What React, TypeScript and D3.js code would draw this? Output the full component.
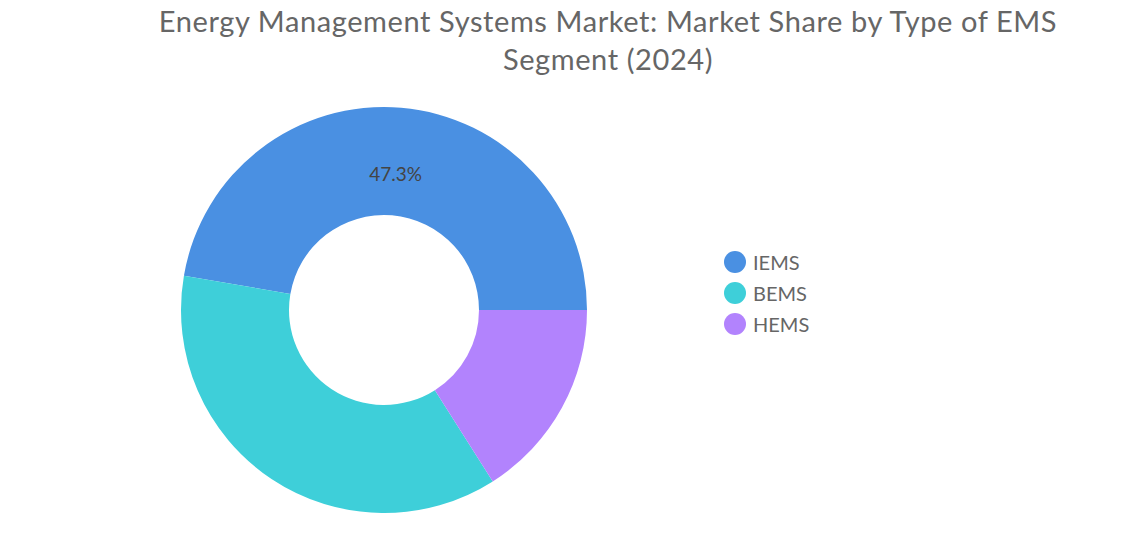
import { useMemo } from 'react';
import * as d3 from 'd3';

const segments = ['IEMS', 'BEMS', 'HEMS'];
const shares = [47.3, 36.7, 16.0];
const colours = ['#4a90e2', '#3ecfd9', '#b283fd'];
const titleLines = [
  'Energy Management Systems Market: Market Share by Type of EMS',
  'Segment (2024)',
];

const width = 1135;
const height = 534;
const cx = 384;
const cy = 310;
const outerRadius = 203;
const innerRadius = 95;

interface Slice {
  name: string;
  value: number;
  colour: string;
}

export default function App() {
  const slices: Slice[] = segments.map((name, i) => ({
    name,
    value: shares[i],
    colour: colours[i],
  }));

  const arcs = useMemo(() => {
    // starts at 3 o'clock and runs counter-clockwise
    const pie = d3
      .pie<Slice>()
      .sort(null)
      .value((d) => d.value)
      .startAngle(Math.PI / 2)
      .endAngle(Math.PI / 2 - 2 * Math.PI);
    return pie(slices);
  }, []);

  const arc = d3.arc<d3.PieArcDatum<Slice>>().innerRadius(innerRadius).outerRadius(outerRadius);
  const labelArc = d3.arc<d3.PieArcDatum<Slice>>().innerRadius(137).outerRadius(137);

  return (
    <svg
      width={width}
      height={height}
      style={{ position: 'absolute', left: 0, top: 0, background: '#fff' }}
      fontFamily="Lato, 'Open Sans', sans-serif"
    >
      {titleLines.map((line, i) => (
        <text
          key={line}
          x={608}
          y={32 + i * 38}
          textAnchor="middle"
          fontSize={29}
          letterSpacing={0.6}
          fill="#666"
        >
          {line}
        </text>
      ))}
      <g transform={`translate(${cx},${cy})`}>
        {arcs.map((d) => (
          <path key={d.data.name} d={arc(d) ?? ''} fill={d.data.colour} />
        ))}
        {arcs
          .filter((d) => d.data.value > 40)
          .map((d) => {
            const [x, y] = labelArc.centroid(d);
            return (
              <text
                key={d.data.name}
                x={x}
                y={y}
                textAnchor="middle"
                dominantBaseline="central"
                fontSize={19}
                fill="#444"
              >
                {`${d.data.value.toFixed(1)}%`}
              </text>
            );
          })}
      </g>
      <g transform="translate(735,262)">
        {slices.map((d, i) => (
          <g key={d.name} transform={`translate(0,${i * 31})`}>
            <circle r={11} fill={d.colour} />
            <text x={18} y={0} dominantBaseline="central" fontSize={20} fill="#666">
              {d.name}
            </text>
          </g>
        ))}
      </g>
    </svg>
  );
}
